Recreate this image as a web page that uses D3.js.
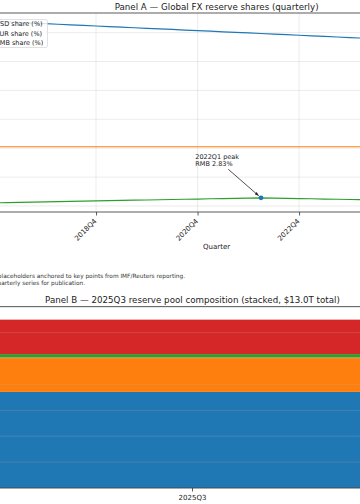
<!DOCTYPE html>
<html><head><meta charset="utf-8">
<script src="https://cdn.jsdelivr.net/npm/d3@7"></script>
<style>html,body{margin:0;padding:0;background:#fff;overflow:hidden}svg{display:block;font-family:"DejaVu Sans",sans-serif}</style>
</head><body><svg id="c" width="360" height="504"></svg>
<script>
// ---------- data ----------
const quarters = ['2016Q4','2017Q1','2017Q2','2017Q3','2017Q4','2018Q1','2018Q2','2018Q3','2018Q4',
  '2019Q1','2019Q2','2019Q3','2019Q4','2020Q1','2020Q2','2020Q3','2020Q4',
  '2021Q1','2021Q2','2021Q3','2021Q4','2022Q1','2022Q2','2022Q3','2022Q4',
  '2023Q1','2023Q2','2023Q3','2023Q4','2024Q1','2024Q2','2024Q3','2024Q4',
  '2025Q1','2025Q2','2025Q3'];
const usdShare = [63.9,63.7,63.5,63.3,63.1,62.9,62.7,62.5,62.3,62.1,61.9,61.7,61.5,61.3,61.1,60.9,60.7,
  60.5,60.3,60.1,59.9,59.7,59.5,59.3,59.1,58.9,58.7,58.5,58.3,58.1,57.9,57.7,57.5,57.3,57.2,57.1];
const eurShare = [20.5,20.5,20.5,20.5,20.5,20.5,20.5,20.5,20.5,20.5,20.5,20.5,20.5,20.5,20.5,20.5,20.5,
  20.5,20.5,20.5,20.5,20.5,20.5,20.5,20.5,20.5,20.5,20.5,20.5,20.5,20.5,20.5,20.5,20.5,20.5,20.5];
const rmbShare = [1.08,1.16,1.25,1.33,1.41,1.50,1.58,1.66,1.75,1.83,1.91,2.00,2.08,2.16,2.25,2.33,2.41,
  2.50,2.58,2.66,2.75,2.83,2.75,2.66,2.58,2.50,2.41,2.33,2.25,2.17,2.15,2.13,2.12,2.10,2.09,2.07];
const seriesNames = ['USD share (%)','EUR share (%)','RMB share (%)'];
const xTickLabels = ['2016Q4','2018Q4','2020Q4','2022Q4','2024Q4'];
const yTicksA = [0,10,20,30,40,50,60];
const peakQuarter = '2022Q1';
const peakText = ['2022Q1 peak','RMB 2.83%'];

const poolCategory = ['2025Q3'];
const poolSeries = ['USD','EUR','RMB','Other'];
const poolValues = [7.42, 2.66, 0.26, 2.66];
const yTicksB = [0,2,4,6,8,10,12,14];

const titleA = 'Panel A — Global FX reserve shares (quarterly)';
const titleB = 'Panel B — 2025Q3 reserve pool composition (stacked, $13.0T total)';
const xLabelA = 'Quarter';
const noteLines = ['Note: values are illustrative placeholders anchored to key points from IMF/Reuters reporting.',
  'Replace with official IMF COFER quarterly series for publication.'];

// ---------- style ----------
const colors = ['#1f77b4','#ff7f0e','#2ca02c','#d62728'];
const spine = '#333';
const gridCol = '#b0b0b0';

const svg = d3.select('#c');

// ---------- Panel A ----------
const A = {left:-27.7, right:460.9, top:13, bottom:212};
const xA = d3.scaleLinear().domain([-1.75, quarters.length - 1 + 1.75]).range([A.left, A.right]);
const yA = d3.scaleLinear().domain([-2.08, 66.8]).range([A.bottom, A.top]);
const gA = svg.append('g');

const tickIdx = xTickLabels.map(q => quarters.indexOf(q));
// grid
gA.append('g').selectAll('line.v').data(tickIdx).join('line')
  .attr('x1', d => xA(d)).attr('x2', d => xA(d)).attr('y1', A.top).attr('y2', A.bottom)
  .attr('stroke', gridCol).attr('stroke-opacity', 0.3).attr('stroke-width', 0.8);
gA.append('g').selectAll('line.h').data(yTicksA).join('line')
  .attr('x1', A.left).attr('x2', A.right).attr('y1', d => yA(d)).attr('y2', d => yA(d))
  .attr('stroke', gridCol).attr('stroke-opacity', 0.3).attr('stroke-width', 0.8);

// lines
const seriesA = [usdShare, eurShare, rmbShare];
const lineGen = d3.line().x((d, i) => xA(i)).y(d => yA(d));
seriesA.forEach((s, k) => {
  gA.append('path').datum(s).attr('d', lineGen).attr('fill', 'none')
    .attr('stroke', colors[k]).attr('stroke-width', 1.2);
});

// peak marker + annotation
const pi = quarters.indexOf(peakQuarter);
const px = xA(pi), py = yA(rmbShare[pi]);
svg.append('defs').append('marker').attr('id', 'ah').attr('viewBox', '0 0 10 10')
  .attr('refX', 10).attr('refY', 5).attr('markerWidth', 5).attr('markerHeight', 5)
  .attr('orient', 'auto').append('path').attr('d', 'M0,1 L10,5 L0,9 z').attr('fill', '#222');
const sx = px - 32.7, sy = py - 28.5;
const ang = Math.atan2(py - sy, px - sx);
gA.append('line').attr('x1', sx).attr('y1', sy)
  .attr('x2', px - 3 * Math.cos(ang)).attr('y2', py - 3 * Math.sin(ang))
  .attr('stroke', '#222').attr('stroke-width', 0.8).attr('marker-end', 'url(#ah)');
gA.append('circle').attr('cx', px).attr('cy', py).attr('r', 2.4).attr('fill', colors[0]);
gA.append('g').selectAll('text').data(peakText).join('text')
  .attr('x', px - 65.7).attr('y', (d, i) => py - 39 + i * 7.3)
  .attr('font-size', 6.5).attr('fill', '#222').text(d => d);

// frame
gA.append('rect').attr('x', A.left).attr('y', A.top).attr('width', A.right - A.left)
  .attr('height', A.bottom - A.top).attr('fill', 'none').attr('stroke', spine).attr('stroke-width', 0.8);

// x axis
const axA = gA.append('g').attr('transform', `translate(0,${A.bottom})`)
  .call(d3.axisBottom(xA).tickValues(tickIdx).tickFormat(i => quarters[i]).tickSize(3.5));
axA.select('.domain').remove();
axA.selectAll('.tick line').attr('stroke', spine).attr('stroke-width', 0.8);
axA.selectAll('.tick text').attr('y', null).attr('dy', null).attr('text-anchor', 'end')
  .attr('transform', 'translate(0.5,9.5) rotate(-45)').attr('font-size', 7)
  .attr('font-family', '"DejaVu Sans"').attr('fill', '#222');
// y axis (offscreen labels)
const ayA = gA.append('g').attr('transform', `translate(${A.left},0)`)
  .call(d3.axisLeft(yA).tickValues(yTicksA).tickSize(3.5));
ayA.select('.domain').remove();
ayA.selectAll('text').attr('font-size', 7).attr('font-family', '"DejaVu Sans"');

gA.append('text').attr('x', (A.left + A.right) / 2).attr('y', 249).attr('text-anchor', 'middle')
  .attr('font-size', 7).attr('fill', '#222').text(xLabelA);
gA.append('text').attr('x', (A.left + A.right) / 2).attr('y', 9.8).attr('text-anchor', 'middle')
  .attr('font-size', 8.7).attr('fill', '#222').text(titleA);

// legend
const lg = gA.append('g');
lg.append('rect').attr('x', -70).attr('y', 19.5).attr('width', 117.5).attr('height', 28)
  .attr('rx', 2).attr('fill', '#fff').attr('fill-opacity', 0.8).attr('stroke', '#ccc').attr('stroke-width', 0.6);
seriesNames.forEach((n, k) => {
  const ly = 24 + k * 9.2;
  lg.append('line').attr('x1', -22).attr('x2', -9).attr('y1', ly).attr('y2', ly)
    .attr('stroke', colors[k]).attr('stroke-width', 1.2);
  lg.append('text').attr('x', -4.7).attr('y', ly + 2.4).attr('font-size', 6.5).attr('fill', '#222').text(n);
});

// note
svg.append('g').selectAll('text').data(noteLines).join('text')
  .attr('x', (d, i) => i === 0 ? 185 : 85).attr('y', (d, i) => 278 + i * 6.5)
  .attr('text-anchor', 'end').attr('font-size', 5.8).attr('fill', '#333').text(d => d);

// ---------- Panel B ----------
const B = {left:-80, right:465, top:306.7, bottom:488};
const xB = d3.scaleBand().domain(poolCategory).range([B.left, B.right]).paddingInner(0).paddingOuter(0.1);
const yB = d3.scaleLinear().domain([0, 14]).range([B.bottom, B.top]);
const gB = svg.append('g');
const stackRow = [Object.fromEntries([['cat', poolCategory[0]], ...poolSeries.map((s, i) => [s, poolValues[i]])])];
const stacked = d3.stack().keys(poolSeries)(stackRow);
stacked.forEach((layer, k) => {
  gB.append('g').selectAll('rect').data(layer).join('rect')
    .attr('x', d => xB(d.data.cat)).attr('width', xB.bandwidth())
    .attr('y', d => yB(d[1])).attr('height', d => yB(d[0]) - yB(d[1]))
    .attr('fill', colors[k]);
});
gB.append('g').selectAll('line').data(yTicksB).join('line')
  .attr('x1', B.left).attr('x2', B.right).attr('y1', d => yB(d)).attr('y2', d => yB(d))
  .attr('stroke', gridCol).attr('stroke-opacity', 0.3).attr('stroke-width', 0.8);
gB.append('rect').attr('x', B.left).attr('y', B.top).attr('width', B.right - B.left)
  .attr('height', B.bottom - B.top).attr('fill', 'none').attr('stroke', spine).attr('stroke-width', 0.8);
const axB = gB.append('g').attr('transform', `translate(0,${B.bottom})`)
  .call(d3.axisBottom(xB).tickSize(3.5));
axB.select('.domain').remove();
axB.selectAll('.tick line').attr('stroke', spine).attr('stroke-width', 0.8);
axB.selectAll('.tick text').attr('y', null).attr('dy', null).attr('transform', 'translate(0,12)')
  .attr('font-size', 7).attr('font-family', '"DejaVu Sans"').attr('fill', '#222');
gB.append('text').attr('x', (B.left + B.right) / 2).attr('y', 302.5).attr('text-anchor', 'middle')
  .attr('font-size', 8.7).attr('fill', '#222').text(titleB);
</script></body></html>
